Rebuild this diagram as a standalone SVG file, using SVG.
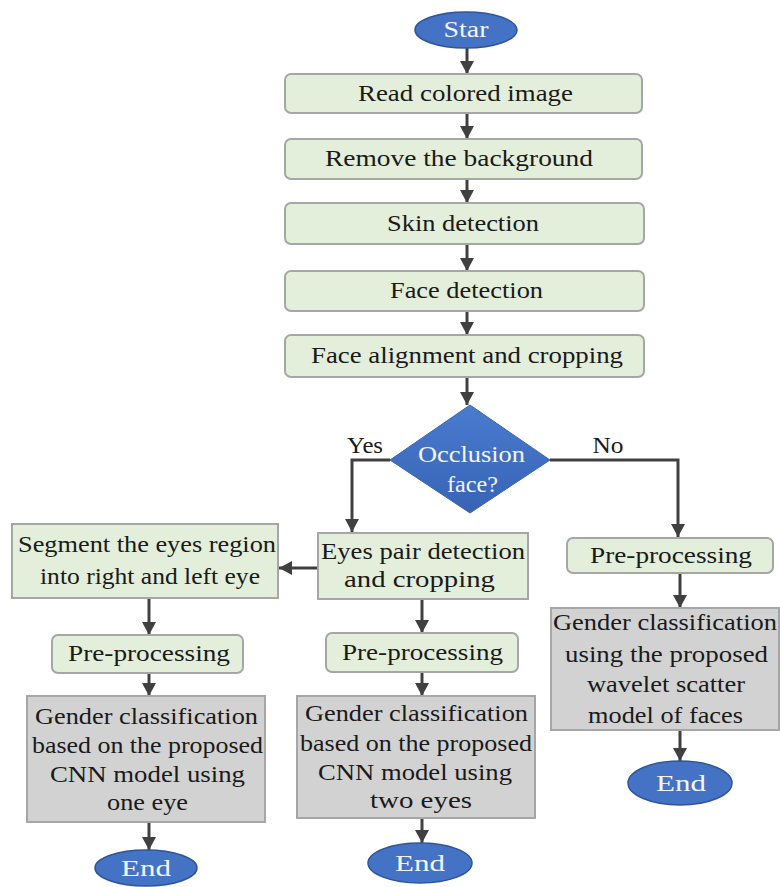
<svg xmlns="http://www.w3.org/2000/svg" width="780" height="887" viewBox="0 0 780 887">
<defs>
<marker id="ah" markerUnits="userSpaceOnUse" markerWidth="16" markerHeight="16" refX="13" refY="8" orient="auto">
<path d="M0,1 L13,8 L0,15 z" fill="#404040"/>
</marker>
<linearGradient id="dg" x1="0" y1="0" x2="0" y2="1">
<stop offset="0" stop-color="#4a7bcf"/>
<stop offset="1" stop-color="#3763b5"/>
</linearGradient>
<style>
.g{fill:#e3eedb;stroke:#a6a6a6;stroke-width:2}
.s{fill:#d2d2d2;stroke:#a6a6a6;stroke-width:2}
.e{fill:#4472c4;stroke:#2f5597;stroke-width:1.5}
.t{font-family:"Liberation Serif","Times New Roman",serif;font-size:23px;fill:#1a1a1a;text-anchor:middle}
.w{fill:#f4f6fb}
.c{fill:none;stroke:#404040;stroke-width:3;marker-end:url(#ah)}
</style>
</defs>
<rect width="780" height="887" fill="#ffffff"/>
<g id="connectors">
<path class="c" d="M467,48 V74"/>
<path class="c" d="M467,113 V139"/>
<path class="c" d="M467,179 V203"/>
<path class="c" d="M467,244 V271"/>
<path class="c" d="M467,311 V335"/>
<path class="c" d="M467,377 V405"/>
<path class="c" d="M390,460 H352 V532"/>
<path class="c" d="M550,460 H678 V537"/>
<path class="c" d="M318,568 H279"/>
<path class="c" d="M149,598 V635"/>
<path class="c" d="M149,673 V696"/>
<path class="c" d="M149,822 V850"/>
<path class="c" d="M422,599 V633"/>
<path class="c" d="M422,672 V696"/>
<path class="c" d="M422,818 V843"/>
<path class="c" d="M680,573 V608"/>
<path class="c" d="M680,730 V761"/>
<text class="t" x="365" y="453" textLength="36" lengthAdjust="spacingAndGlyphs">Yes</text>
<text class="t" x="608" y="453" textLength="31" lengthAdjust="spacingAndGlyphs">No</text>
</g>
<g id="start">
<ellipse class="e" cx="466" cy="30" rx="51" ry="18"/>
<text class="t w" x="466" y="37" textLength="45" lengthAdjust="spacingAndGlyphs">Star</text>
</g>
<g id="read">
<rect class="g" x="285" y="74" width="357" height="39" rx="6"/>
<text class="t" x="465.5" y="101" textLength="215" lengthAdjust="spacingAndGlyphs">Read colored image</text>
</g>
<g id="remove">
<rect class="g" x="285" y="139" width="357" height="40" rx="6"/>
<text class="t" x="459" y="166" textLength="268" lengthAdjust="spacingAndGlyphs">Remove the background</text>
</g>
<g id="skin">
<rect class="g" x="285" y="203" width="359" height="41" rx="6"/>
<text class="t" x="463" y="231" textLength="152" lengthAdjust="spacingAndGlyphs">Skin detection</text>
</g>
<g id="face">
<rect class="g" x="285" y="271" width="359" height="40" rx="6"/>
<text class="t" x="466.5" y="298" textLength="153" lengthAdjust="spacingAndGlyphs">Face detection</text>
</g>
<g id="align">
<rect class="g" x="285" y="335" width="359" height="42" rx="6"/>
<text class="t" x="467" y="363" textLength="312" lengthAdjust="spacingAndGlyphs">Face alignment and cropping</text>
</g>
<g id="decision">
<polygon points="470,405 550,460 470,513 390,460" fill="url(#dg)" stroke="#3a65b3" stroke-width="1"/>
<text class="t w" x="471.5" y="462" textLength="107" lengthAdjust="spacingAndGlyphs">Occlusion</text>
<text class="t w" x="472.5" y="492" textLength="51" lengthAdjust="spacingAndGlyphs">face?</text>
</g>
<g id="eyes">
<rect class="g" x="318" y="533" width="210" height="66"/>
<text class="t" x="423" y="559" textLength="204" lengthAdjust="spacingAndGlyphs">Eyes pair detection</text>
<text class="t" x="419.5" y="587" textLength="151" lengthAdjust="spacingAndGlyphs">and cropping</text>
</g>
<g id="segment">
<rect class="g" x="12" y="524" width="266" height="74"/>
<text class="t" x="147" y="552" textLength="258" lengthAdjust="spacingAndGlyphs">Segment the eyes region</text>
<text class="t" x="150" y="584" textLength="220" lengthAdjust="spacingAndGlyphs">into right and left eye</text>
</g>
<g id="pre-left">
<rect class="g" x="52" y="635" width="191" height="38" rx="6"/>
<text class="t" x="149" y="661" textLength="162" lengthAdjust="spacingAndGlyphs">Pre-processing</text>
</g>
<g id="pre-mid">
<rect class="g" x="326" y="633" width="192" height="39" rx="6"/>
<text class="t" x="422.5" y="660" textLength="161" lengthAdjust="spacingAndGlyphs">Pre-processing</text>
</g>
<g id="pre-right">
<rect class="g" x="567" y="538" width="206" height="35" rx="6"/>
<text class="t" x="671" y="563" textLength="162" lengthAdjust="spacingAndGlyphs">Pre-processing</text>
</g>
<g id="class-one">
<rect class="s" x="27" y="696" width="238" height="126"/>
<text class="t" x="146.5" y="724" textLength="223" lengthAdjust="spacingAndGlyphs">Gender classification</text>
<text class="t" x="147.5" y="753" textLength="231" lengthAdjust="spacingAndGlyphs">based on the proposed</text>
<text class="t" x="147.5" y="782" textLength="195" lengthAdjust="spacingAndGlyphs">CNN model using</text>
<text class="t" x="147.5" y="810" textLength="81" lengthAdjust="spacingAndGlyphs">one eye</text>
</g>
<g id="class-two">
<rect class="s" x="297" y="696" width="238" height="122"/>
<text class="t" x="416.5" y="721" textLength="223" lengthAdjust="spacingAndGlyphs">Gender classification</text>
<text class="t" x="416" y="751" textLength="232" lengthAdjust="spacingAndGlyphs">based on the proposed</text>
<text class="t" x="415" y="780" textLength="194" lengthAdjust="spacingAndGlyphs">CNN model using</text>
<text class="t" x="421" y="808" textLength="102" lengthAdjust="spacingAndGlyphs">two eyes</text>
</g>
<g id="class-face">
<rect class="s" x="551" y="608" width="228" height="122"/>
<text class="t" x="665" y="630" textLength="224" lengthAdjust="spacingAndGlyphs">Gender classification</text>
<text class="t" x="666.5" y="662" textLength="203" lengthAdjust="spacingAndGlyphs">using the proposed</text>
<text class="t" x="666" y="692" textLength="158" lengthAdjust="spacingAndGlyphs">wavelet scatter</text>
<text class="t" x="665.5" y="723" textLength="155" lengthAdjust="spacingAndGlyphs">model of faces</text>
</g>
<g id="end-left">
<ellipse class="e" cx="146" cy="868" rx="51" ry="18"/>
<text class="t w" x="146" y="876" textLength="50" lengthAdjust="spacingAndGlyphs">End</text>
</g>
<g id="end-mid">
<ellipse class="e" cx="420" cy="863" rx="52" ry="20"/>
<text class="t w" x="420" y="871" textLength="50" lengthAdjust="spacingAndGlyphs">End</text>
</g>
<g id="end-right">
<ellipse class="e" cx="680" cy="783" rx="52" ry="22"/>
<text class="t w" x="681" y="791" textLength="50" lengthAdjust="spacingAndGlyphs">End</text>
</g>
</svg>
